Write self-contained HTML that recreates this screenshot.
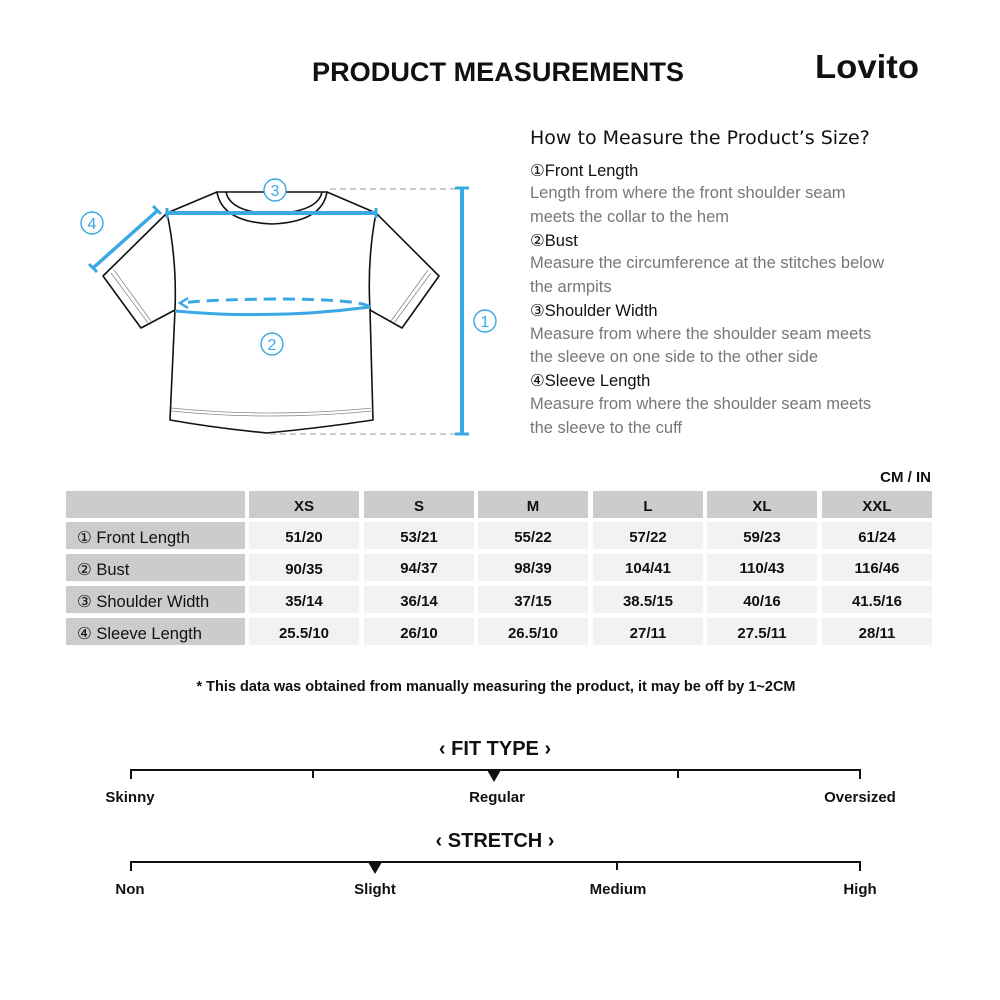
<!DOCTYPE html>
<html><head><meta charset="utf-8"><style>
html,body{margin:0;padding:0;background:#fff;}
svg{display:block;}
.b{font-family:"Liberation Sans",sans-serif;font-weight:bold;fill:#111;}
.r{font-family:"Liberation Sans",sans-serif;}
</style></head><body>
<svg width="1000" height="1000" viewBox="0 0 1000 1000">
<text x="498" y="81" text-anchor="middle" class="b" font-size="27" textLength="372" lengthAdjust="spacingAndGlyphs">PRODUCT MEASUREMENTS</text>
<text x="867" y="78" text-anchor="middle" class="b" font-size="33" textLength="104" lengthAdjust="spacingAndGlyphs">Lovito</text>

<!-- shirt -->
<g fill="none" stroke="#111" stroke-width="1.6" stroke-linejoin="round">
<path d="M217,192 L327,192 L376,213 L439,276 L402,328 L370,310 L373,420 Q320,428 267,433 Q215,428 170,420 L175,310 L141,328 L103,276 L167,213 Z" fill="#fff"/>
<path d="M226,192 Q230,212 272,214 Q318,212 322,192"/>
<path d="M217,192 Q222,222 272,224 Q322,222 327,192"/>
<path d="M167,213 Q177,260 175,310"/><path d="M376,213 Q367,260 370,310"/>
</g>
<g stroke="#888" stroke-width="0.8" fill="none">
<path d="M111,273 L148,323"/><path d="M114,270 L151,321"/>
<path d="M431,273 L394,323"/><path d="M428,270 L391,321"/>
<path d="M171,408 Q270,418 373,408"/><path d="M171,411 Q270,421 373,411"/>
</g>
<g stroke="#bbb" stroke-width="1.5" stroke-dasharray="6,4">
<line x1="330" y1="189" x2="460" y2="189"/><line x1="270" y1="434" x2="460" y2="434"/>
</g>
<g stroke="#3aa8e4" fill="none">
<line x1="462" y1="188" x2="462" y2="434" stroke-width="4"/>
<line x1="455" y1="188" x2="469" y2="188" stroke-width="3"/>
<line x1="455" y1="434" x2="469" y2="434" stroke-width="3"/>
<line x1="167" y1="213" x2="376" y2="213" stroke-width="4"/>
<line x1="167" y1="208" x2="167" y2="218" stroke-width="3"/>
<line x1="376" y1="208" x2="376" y2="218" stroke-width="3"/>
<line x1="157" y1="211" x2="93" y2="268" stroke-width="3.5"/>
<line x1="153" y1="206" x2="161" y2="214" stroke-width="3"/>
<line x1="89" y1="264" x2="97" y2="272" stroke-width="3"/>
<path d="M175,311 Q272,320 370,307" stroke-width="3"/>
<path d="M370,307 Q360,299 272,299 Q200,300 182,303" stroke-width="3" stroke-dasharray="12,7"/>
<path d="M188,298 L180,303 L188,308" stroke-width="2.5"/>
<g stroke-width="1.4" fill="#fff">
<circle cx="275" cy="190" r="11"/><circle cx="92" cy="223" r="11"/><circle cx="272" cy="344" r="11"/><circle cx="485" cy="321" r="11"/>
</g>
</g>
<g font-family="'Liberation Sans',sans-serif" font-size="16" fill="#3aa8e4" text-anchor="middle">
<text x="275" y="196">3</text><text x="92" y="229">4</text><text x="272" y="350">2</text><text x="485" y="327">1</text>
</g>

<!-- right text -->
<text x="530" y="144" font-family="'DejaVu Sans',sans-serif" font-size="19" fill="#111">How to Measure the Product’s Size?</text>
<g class="r" font-size="16.5">
<text x="530" y="176" fill="#111">①Front Length</text>
<text x="530" y="198" fill="#777">Length from where the front shoulder seam</text>
<text x="530" y="222" fill="#777">meets the collar to the hem</text>
<text x="530" y="246" fill="#111">②Bust</text>
<text x="530" y="268" fill="#777">Measure the circumference at the stitches below</text>
<text x="530" y="292" fill="#777">the armpits</text>
<text x="530" y="316" fill="#111">③Shoulder Width</text>
<text x="530" y="339" fill="#777">Measure from where the shoulder seam meets</text>
<text x="530" y="362" fill="#777">the sleeve on one side to the other side</text>
<text x="530" y="386" fill="#111">④Sleeve Length</text>
<text x="530" y="409" fill="#777">Measure from where the shoulder seam meets</text>
<text x="530" y="433" fill="#777">the sleeve to the cuff</text>
</g>

<text x="931" y="482" text-anchor="end" class="b" font-size="15">CM / IN</text>

<!-- table -->
<g>
<rect x="66" y="491" width="179" height="27" fill="#cccccc"/>
<rect x="66" y="522" width="179" height="27" fill="#cccccc"/>
<rect x="66" y="554" width="179" height="27" fill="#cccccc"/>
<rect x="66" y="586" width="179" height="27" fill="#cccccc"/>
<rect x="66" y="618" width="179" height="27" fill="#cccccc"/>
<g fill="#cccccc">
<rect x="249" y="491" width="110" height="27"/><rect x="364" y="491" width="110" height="27"/><rect x="478" y="491" width="110" height="27"/><rect x="593" y="491" width="110" height="27"/><rect x="707" y="491" width="110" height="27"/><rect x="822" y="491" width="110" height="27"/>
</g>
<g fill="#f2f2f2">
<rect x="249" y="522" width="110" height="27"/><rect x="364" y="522" width="110" height="27"/><rect x="478" y="522" width="110" height="27"/><rect x="593" y="522" width="110" height="27"/><rect x="707" y="522" width="110" height="27"/><rect x="822" y="522" width="110" height="27"/>
<rect x="249" y="554" width="110" height="27"/><rect x="364" y="554" width="110" height="27"/><rect x="478" y="554" width="110" height="27"/><rect x="593" y="554" width="110" height="27"/><rect x="707" y="554" width="110" height="27"/><rect x="822" y="554" width="110" height="27"/>
<rect x="249" y="586" width="110" height="27"/><rect x="364" y="586" width="110" height="27"/><rect x="478" y="586" width="110" height="27"/><rect x="593" y="586" width="110" height="27"/><rect x="707" y="586" width="110" height="27"/><rect x="822" y="586" width="110" height="27"/>
<rect x="249" y="618" width="110" height="27"/><rect x="364" y="618" width="110" height="27"/><rect x="478" y="618" width="110" height="27"/><rect x="593" y="618" width="110" height="27"/><rect x="707" y="618" width="110" height="27"/><rect x="822" y="618" width="110" height="27"/>
</g>
<g class="b" font-size="15" text-anchor="middle">
<text x="304" y="511">XS</text><text x="419" y="511">S</text><text x="533" y="511">M</text><text x="648" y="511">L</text><text x="762" y="511">XL</text><text x="877" y="511">XXL</text>
<text x="304" y="542">51/20</text><text x="419" y="542">53/21</text><text x="533" y="542">55/22</text><text x="648" y="542">57/22</text><text x="762" y="542">59/23</text><text x="877" y="542">61/24</text>
<text x="304" y="574">90/35</text><text x="419" y="573">94/37</text><text x="533" y="573">98/39</text><text x="648" y="573">104/41</text><text x="762" y="573">110/43</text><text x="877" y="573">116/46</text>
<text x="304" y="606">35/14</text><text x="419" y="606">36/14</text><text x="533" y="606">37/15</text><text x="648" y="606">38.5/15</text><text x="762" y="606">40/16</text><text x="877" y="606">41.5/16</text>
<text x="304" y="638">25.5/10</text><text x="419" y="638">26/10</text><text x="533" y="638">26.5/10</text><text x="648" y="638">27/11</text><text x="762" y="638">27.5/11</text><text x="877" y="638">28/11</text>
</g>
<g class="r" font-size="16.5" fill="#111">
<text x="77" y="543">① Front Length</text><text x="77" y="575">② Bust</text><text x="77" y="607">③ Shoulder Width</text><text x="77" y="639">④ Sleeve Length</text>
</g>
</g>

<text x="496" y="691" text-anchor="middle" class="b" font-size="14.5">* This data was obtained from manually measuring the product, it may be off by 1~2CM</text>

<!-- fit type -->
<text x="495" y="755" text-anchor="middle" class="b" font-size="20">‹ FIT TYPE ›</text>
<g stroke="#111" stroke-width="2">
<line x1="130" y1="770" x2="861" y2="770"/>
<line x1="131" y1="769" x2="131" y2="779"/><line x1="313" y1="769" x2="313" y2="778"/><line x1="678" y1="769" x2="678" y2="778"/><line x1="860" y1="769" x2="860" y2="779"/>
</g>
<path d="M487,770 L501,770 L494,782 Z" fill="#111"/>
<g class="b" font-size="15" text-anchor="middle">
<text x="130" y="802">Skinny</text><text x="497" y="802">Regular</text><text x="860" y="802">Oversized</text>
</g>
<text x="495" y="847" text-anchor="middle" class="b" font-size="20">‹ STRETCH ›</text>
<g stroke="#111" stroke-width="2">
<line x1="130" y1="862" x2="861" y2="862"/>
<line x1="131" y1="861" x2="131" y2="871"/><line x1="617" y1="861" x2="617" y2="870"/><line x1="860" y1="861" x2="860" y2="871"/>
</g>
<path d="M368,862 L382,862 L375,874 Z" fill="#111"/>
<g class="b" font-size="15" text-anchor="middle">
<text x="130" y="894">Non</text><text x="375" y="894">Slight</text><text x="618" y="894">Medium</text><text x="860" y="894">High</text>
</g>
</svg>
</body></html>
